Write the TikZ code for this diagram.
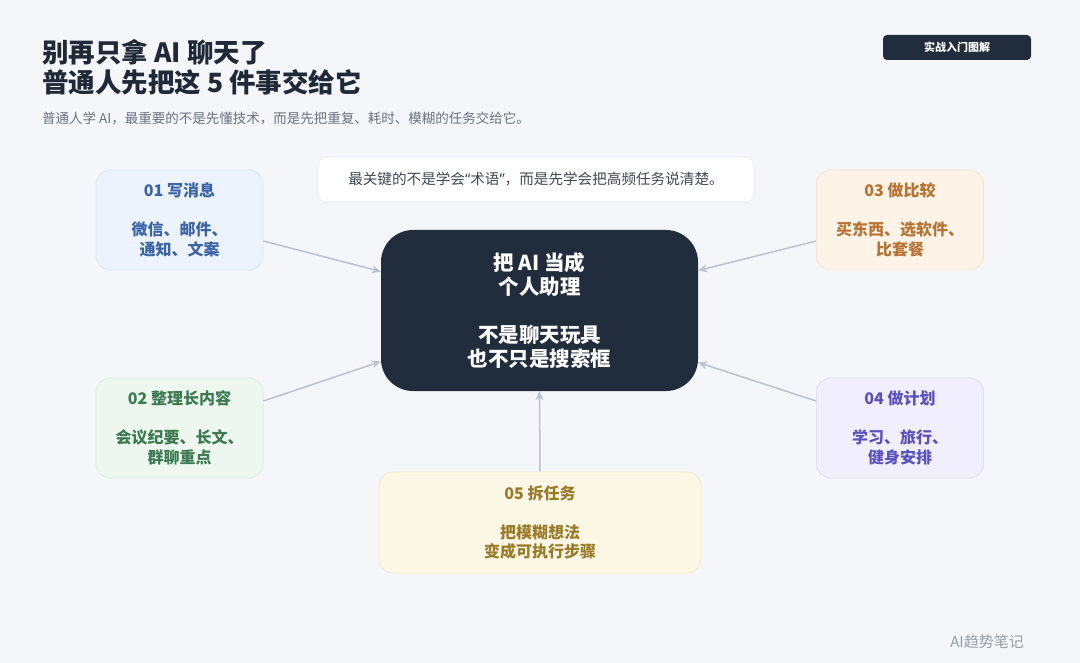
\documentclass[tikz,border=0pt]{standalone}
\usepackage{fontspec}
\setmainfont{Noto Sans CJK SC}
\newfontfamily\latinquote{Noto Sans}
\usepackage{tikz}
\usetikzlibrary{arrows.meta,positioning}
\definecolor{pagebg}{HTML}{F4F6FA}
\definecolor{inkdark}{HTML}{1F2937}
\definecolor{inkgray}{HTML}{6B7280}
\definecolor{hubnavy}{HTML}{212D3D}
\definecolor{linkgray}{HTML}{B9C1D3}
\definecolor{notegray}{HTML}{E3E8F0}
\definecolor{blueface}{HTML}{EDF3FC}
\definecolor{blueedge}{HTML}{DCE6F5}
\definecolor{bluetext}{HTML}{3A64A8}
\definecolor{greenface}{HTML}{EDF7F0}
\definecolor{greenedge}{HTML}{DCEDE0}
\definecolor{greentext}{HTML}{3C7A52}
\definecolor{orangeface}{HTML}{FDF3E6}
\definecolor{orangeedge}{HTML}{F3E3CC}
\definecolor{orangetext}{HTML}{B87333}
\definecolor{purpleface}{HTML}{F1EFFD}
\definecolor{purpleedge}{HTML}{E2DEF7}
\definecolor{purpletext}{HTML}{5B4FC4}
\definecolor{yellowface}{HTML}{FDF8E6}
\definecolor{yellowedge}{HTML}{F3EACB}
\definecolor{yellowtext}{HTML}{9A7B2A}
\tikzset{
  taskcard/.style={rounded corners=14pt, line width=0.8pt, align=center,
    minimum width=167pt, minimum height=100pt, inner sep=0pt,
    font=\fontsize{16}{19.5}\selectfont\bfseries},
  hubcard/.style={fill=hubnavy, rounded corners=32pt, align=center,
    minimum width=317pt, minimum height=161pt, inner sep=0pt, text=white,
    font=\fontsize{20.5}{24}\selectfont\bfseries},
  linkarrow/.style={draw=linkgray, line width=1.5pt,
    -{Stealth[length=9pt,width=8pt]}}
}
\begin{document}
\begin{tikzpicture}[x=1pt,y=-1pt]
\useasboundingbox[fill=pagebg] (0,0) rectangle (1080,663);
\node[anchor=west, text=inkdark, align=left, inner sep=0pt,
  font=\fontsize{26.5}{30}\selectfont\bfseries] (headline) at (42,67) {别再只拿 AI 聊天了\\普通人先把这 5 件事交给它};
\node[anchor=west, text=inkgray, inner sep=0pt,
  font=\fontsize{13.5}{16}\selectfont] (subline) at (42,118) {普通人学 AI，最重要的不是先懂技术，而是先把重复、耗时、模糊的任务交给它。};
\node[fill=hubnavy, rounded corners=4pt, minimum width=148pt, minimum height=25pt,
  inner sep=0pt, text=white, font=\fontsize{11}{13}\selectfont\bfseries] (badge) at (957,47.5) {实战入门图解};
\node[fill=white, draw=notegray, line width=0.6pt, rounded corners=8pt,
  minimum width=436pt, minimum height=45pt, inner sep=0pt, text=inkdark!85,
  font=\fontsize{14.6}{17}\selectfont] (keynote) at (536,179.5) {最关键的不是学会{\latinquote “}术语{\latinquote ”}，而是先学会把高频任务说清楚。};
\node[hubcard] (hub) at (539.5,310.5) {把 AI 当成\\个人助理\\[24pt]不是聊天玩具\\也不只是搜索框};
\node[taskcard, fill=blueface, draw=blueedge, text=bluetext] (writemsg) at (179.5,220) {01 写消息\\[19.5pt]微信、邮件、\\通知、文案};
\node[taskcard, fill=greenface, draw=greenedge, text=greentext] (sortlong) at (179.5,428) {02 整理长内容\\[19.5pt]会议纪要、长文、\\群聊重点};
\node[taskcard, fill=orangeface, draw=orangeedge, text=orangetext] (compare) at (900,220) {03 做比较\\[19.5pt]买东西、选软件、\\比套餐};
\node[taskcard, fill=purpleface, draw=purpleedge, text=purpletext] (planning) at (900,428) {04 做计划\\[19.5pt]学习、旅行、\\健身安排};
\node[taskcard, fill=yellowface, draw=yellowedge, text=yellowtext, minimum width=322pt, minimum height=101pt] (splittask) at (540,522.5) {05 拆任务\\[19.5pt]把模糊想法\\变成可执行步骤};
\draw[linkarrow] ([yshift=-21pt]writemsg.east) -- ([yshift=39pt]hub.west);
\draw[linkarrow] ([yshift=27pt]sortlong.east) -- ([yshift=-51pt]hub.west);
\draw[linkarrow] ([yshift=-21pt]compare.west) -- ([yshift=40pt]hub.east);
\draw[linkarrow] ([yshift=27pt]planning.west) -- ([yshift=-52pt]hub.east);
\draw[linkarrow] (splittask.north) -- (hub.south);
\node[text=inkgray!70, inner sep=0pt, font=\fontsize{15}{17}\selectfont] (watermark) at (987,642) {AI趋势笔记};
\end{tikzpicture}
\end{document}
